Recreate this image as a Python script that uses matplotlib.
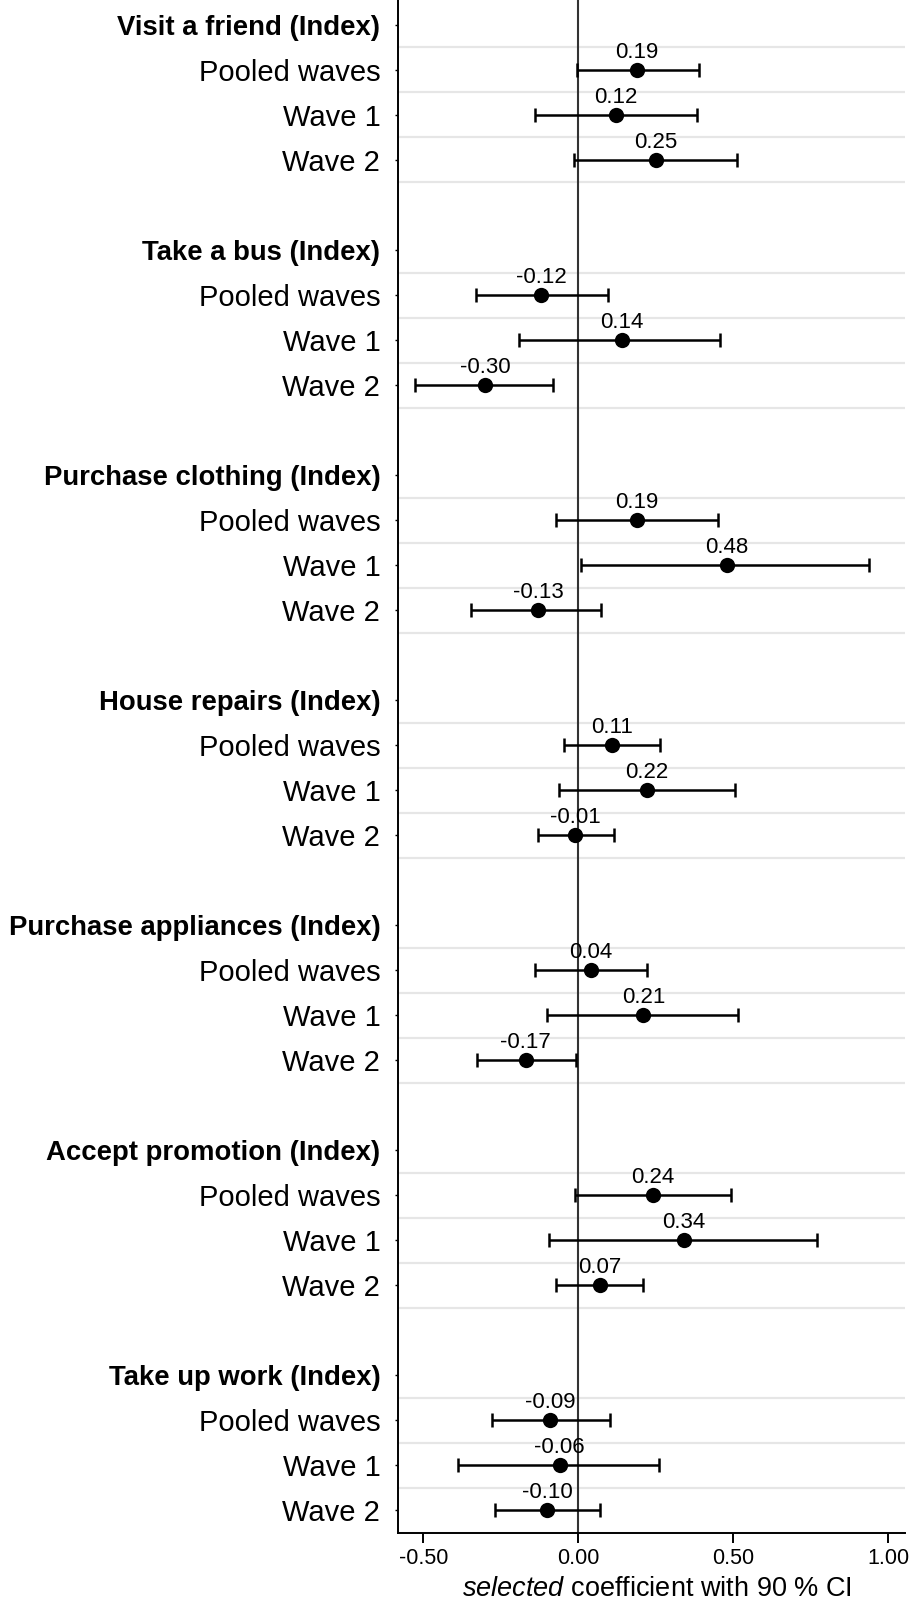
import numpy as np
import matplotlib.pyplot as plt

plt.rcParams['font.family'] = ['Liberation Sans', 'DejaVu Sans']
plt.rcParams['mathtext.fontset'] = 'custom'
plt.rcParams['mathtext.it'] = 'Liberation Sans:italic'
plt.rcParams['mathtext.rm'] = 'Liberation Sans'
plt.rcParams['axes.unicode_minus'] = False

# --- datos ------------------------------------------------------------------
grupos = ['Visit a friend (Index)', 'Take a bus (Index)',
          'Purchase clothing (Index)', 'House repairs (Index)',
          'Purchase appliances (Index)', 'Accept promotion (Index)',
          'Take up work (Index)']
filas = ['Pooled waves', 'Wave 1', 'Wave 2']

coef = np.array([[0.19, 0.12, 0.25],
                 [-0.12, 0.14, -0.30],
                 [0.19, 0.48, -0.13],
                 [0.11, 0.22, -0.01],
                 [0.04, 0.21, -0.17],
                 [0.24, 0.34, 0.07],
                 [-0.09, -0.06, -0.10]])

ci_lo = np.array([[-0.003, -0.139, -0.014],
                  [-0.330, -0.190, -0.526],
                  [-0.072, 0.010, -0.345],
                  [-0.046, -0.063, -0.131],
                  [-0.140, -0.102, -0.327],
                  [-0.010, -0.095, -0.072],
                  [-0.279, -0.389, -0.268]])

ci_hi = np.array([[0.390, 0.384, 0.513],
                  [0.097, 0.457, -0.082],
                  [0.452, 0.939, 0.074],
                  [0.265, 0.505, 0.115],
                  [0.223, 0.515, -0.009],
                  [0.492, 0.770, 0.207],
                  [0.101, 0.259, 0.071]])

xticks = [-0.5, 0.0, 0.5, 1.0]

# --- posiciones de filas (cabecera + 3 filas + hueco por grupo) --------------
paso = len(filas) + 2
pos_cab = np.arange(len(grupos)) * paso
pos = pos_cab[:, None] + 1 + np.arange(len(filas))[None, :]
pos_grid = (pos_cab[:, None] + 0.5 + np.arange(len(filas) + 1)[None, :]).ravel()

fig = plt.figure(figsize=(9.1, 16), dpi=100)
ax = fig.add_axes([0.4377, 0.0421, 0.9945 - 0.4377, 1 - 0.0421])

for yg in pos_grid:
    ax.axhline(yg, color='#e6e6e6', lw=1.6, zorder=0)
ax.axvline(0, color='#333333', lw=1.5, zorder=1)

c = coef.ravel()
y = pos.ravel()
ax.errorbar(c, y, xerr=[c - ci_lo.ravel(), ci_hi.ravel() - c],
            fmt='none', ecolor='black', elinewidth=1.8,
            capsize=5, capthick=1.8, zorder=3)
ax.plot(c, y, 'o', color='black', ms=11, mew=0, zorder=4)

for xv, yv in zip(c, y):
    ax.annotate(f'{xv:.2f}', (xv, yv), xytext=(0, 8.5), textcoords='offset points',
                ha='center', va='baseline', fontsize=16, color='black', zorder=5)

# eje y: cabeceras en negrita y filas normales
yt = np.concatenate([pos_cab, y])
yl = grupos + filas * len(grupos)
ax.set_yticks(yt)
ax.set_yticklabels(yl)
for lbl, yv in zip(ax.get_yticklabels(), yt):
    if yv in pos_cab:
        lbl.set_fontweight('bold')
        lbl.set_fontsize(19.8)
    else:
        lbl.set_fontsize(21)
ax.tick_params(axis='y', length=2, width=1, pad=11, colors='black')

ax.set_xticks(xticks)
ax.set_xticklabels([f'{v:.2f}' for v in xticks])
ax.tick_params(axis='x', length=7, width=1.4, pad=4, labelsize=15.5)

ax.set_xlim(-0.581, 1.054)
ax.set_ylim(pos.max() + 0.5, -0.555)

for s in ['top', 'right']:
    ax.spines[s].set_visible(False)
for s in ['left', 'bottom']:
    ax.spines[s].set_linewidth(1.4)
    ax.spines[s].set_color('black')

# título del eje x, con la línea base pegada al borde inferior
fig.text(657 / 910, 3.5 / 1600, r'$\it{selected}$ coefficient with 90 % CI',
         fontsize=19.5, ha='center', va='baseline')

fig.savefig('out.png', dpi=100)
